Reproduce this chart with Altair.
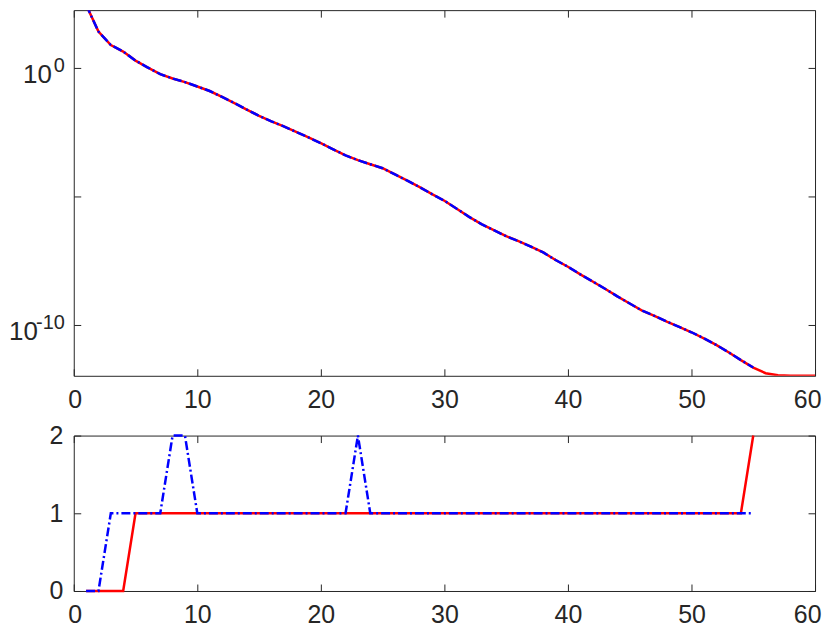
import altair as alt
import pandas as pd

# ---- data ----
x_top_red = list(range(1, 61))
red_top = [3.0e2, 2.7e1, 8.1e0, 4.5e0, 2.0e0, 1.07e0, 5.9e-1, 4.0e-1, 2.9e-1, 1.95e-1,
           1.3e-1, 7.6e-2, 4.4e-2, 2.45e-2, 1.4e-2, 8.5e-3, 5.4e-3, 3.3e-3, 2.0e-3, 1.2e-3,
           6.9e-4, 4.0e-4, 2.6e-4, 1.8e-4, 1.26e-4, 7.2e-5, 4.1e-5, 2.3e-5, 1.23e-5, 6.8e-6,
           3.3e-6, 1.6e-6, 8.3e-7, 4.8e-7, 2.8e-7, 1.8e-7, 1.1e-7, 6.5e-8, 3.3e-8, 1.8e-8,
           9.1e-9, 4.8e-9, 2.5e-9, 1.26e-9, 6.6e-10, 3.5e-10, 2.2e-10, 1.3e-10, 8.1e-11, 5.0e-11,
           2.9e-11, 1.6e-11, 8.3e-12, 4.1e-12, 2.1e-12, 1.26e-12, 1.05e-12, 1.01e-12, 1.0e-12, 1.0e-12]
x_top_blue = list(range(1, 56))
blue_top = [3.0e2, 2.7e1, 8.1e0, 4.5e0, 2.0e0, 1.07e0, 5.9e-1, 4.0e-1, 2.9e-1, 1.95e-1,
            1.3e-1, 7.6e-2, 4.4e-2, 2.45e-2, 1.4e-2, 8.5e-3, 5.4e-3, 3.3e-3, 2.0e-3, 1.2e-3,
            6.9e-4, 4.0e-4, 2.6e-4, 1.8e-4, 1.26e-4, 7.2e-5, 4.1e-5, 2.3e-5, 1.23e-5, 6.8e-6,
            3.3e-6, 1.6e-6, 8.3e-7, 4.8e-7, 2.8e-7, 1.8e-7, 1.1e-7, 6.5e-8, 3.3e-8, 1.8e-8,
            9.1e-9, 4.8e-9, 2.5e-9, 1.26e-9, 6.6e-10, 3.5e-10, 2.2e-10, 1.3e-10, 8.1e-11, 5.0e-11,
            2.9e-11, 1.6e-11, 8.3e-12, 4.1e-12, 2.1e-12]

x_bot = list(range(1, 56))
red_bot = [0, 0, 0, 0, 1, 1, 1, 1, 1, 1,
           1, 1, 1, 1, 1, 1, 1, 1, 1, 1,
           1, 1, 1, 1, 1, 1, 1, 1, 1, 1,
           1, 1, 1, 1, 1, 1, 1, 1, 1, 1,
           1, 1, 1, 1, 1, 1, 1, 1, 1, 1,
           1, 1, 1, 1, 2]
blue_bot = [0, 0, 1, 1, 1, 1, 1, 2, 2, 1,
            1, 1, 1, 1, 1, 1, 1, 1, 1, 1,
            1, 1, 2, 1, 1, 1, 1, 1, 1, 1,
            1, 1, 1, 1, 1, 1, 1, 1, 1, 1,
            1, 1, 1, 1, 1, 1, 1, 1, 1, 1,
            1, 1, 1, 1, 1]

x_ticks = [0, 10, 20, 30, 40, 50, 60]
y_top_ticks = [1e-10, 1e-5, 1]
y_bot_ticks = [0, 1, 2]
# labelled log ticks: base and exponent text
y_top_label_vals = [1, 1e-10]
y_top_label_base = ["10", "10"]
y_top_label_exp = ["0", "-10"]

RED = "#ff0000"
BLUE = "#0000ff"
INK = "#262626"
FONT = "Liberation Sans"
FS = 25
TS = 7

df_tr = pd.DataFrame({"x": x_top_red, "v": red_top})
df_tb = pd.DataFrame({"x": x_top_blue, "v": blue_top})
df_br = pd.DataFrame({"x": x_bot, "v": red_bot})
df_bb = pd.DataFrame({"x": x_bot, "v": blue_bot})
df_lab = pd.DataFrame({"v": y_top_label_vals, "base": y_top_label_base, "exp": y_top_label_exp})

xscale = alt.Scale(domain=[0, 60], nice=False, zero=False)
yscale_top = alt.Scale(type="log", domain=[1e-12, 10 ** 2.27], nice=False)
yscale_bot = alt.Scale(domain=[0, 2], nice=False)


def ax_label(orient, values, pad=12, fmt=None, flush=False):
    kw = dict(orient=orient, values=values, offset=-TS, tickSize=TS, domain=False, grid=False,
              labelPadding=pad, labelFont=FONT, labelFontSize=FS, labelColor=INK,
              labelOverlap=False, tickColor=INK, tickWidth=1, title=None)
    if flush:
        kw["labelFlush"] = True
        kw["labelFlushOffset"] = 6
    else:
        kw["labelFlush"] = False
    if fmt is not None:
        kw["format"] = fmt
    return alt.Axis(**kw)


def ax_ticks(orient, values):
    return alt.Axis(orient=orient, values=values, offset=-TS, tickSize=TS, domain=False,
                    grid=False, labels=False, tickColor=INK, tickWidth=1, title=None)


top_red = alt.Chart(df_tr).mark_line(color=RED, strokeWidth=2.5, clip=True).encode(
    x=alt.X("x:Q", scale=xscale, axis=ax_label("bottom", x_ticks, pad=12, flush=True)),
    y=alt.Y("v:Q", scale=yscale_top, axis=ax_ticks("left", y_top_ticks)),
)
top_blue = alt.Chart(df_tb).mark_line(color=BLUE, strokeWidth=2.5, strokeDash=[9, 3, 2, 3], clip=True).encode(
    x=alt.X("x:Q", scale=xscale, axis=ax_ticks("top", x_ticks)),
    y=alt.Y("v:Q", scale=yscale_top, axis=ax_ticks("right", y_top_ticks)),
)
ytext = alt.Y("v:Q", scale=yscale_top, axis=None)
lab_base_0 = alt.Chart(df_lab).transform_filter("datum.v == 1").mark_text(
    align="right", baseline="alphabetic", dy=15, font=FONT, fontSize=26, color=INK
).encode(x=alt.value(-22), y=ytext, text="base:N")
lab_base_10 = alt.Chart(df_lab).transform_filter("datum.v < 1").mark_text(
    align="right", baseline="alphabetic", dy=16, font=FONT, fontSize=26, color=INK
).encode(x=alt.value(-36), y=ytext, text="base:N")
lab_exp = alt.Chart(df_lab).mark_text(
    align="right", baseline="alphabetic", dy=4, font=FONT, fontSize=20, color=INK
).encode(x=alt.value(-9), y=ytext, text="exp:N")

top = alt.layer(top_red, top_blue, lab_base_0, lab_base_10, lab_exp).resolve_axis(
    x="independent", y="independent").properties(width=744, height=367)

bot_red = alt.Chart(df_br).mark_line(color=RED, strokeWidth=2.5).encode(
    x=alt.X("x:Q", scale=xscale, axis=ax_label("bottom", x_ticks, pad=12, flush=True)),
    y=alt.Y("v:Q", scale=yscale_bot, axis=ax_label("left", y_bot_ticks, pad=11, fmt=".0f")),
)
bot_blue = alt.Chart(df_bb).mark_line(color=BLUE, strokeWidth=2.5, strokeDash=[9, 3, 2, 3]).encode(
    x=alt.X("x:Q", scale=xscale, axis=ax_ticks("top", x_ticks)),
    y=alt.Y("v:Q", scale=yscale_bot, axis=ax_ticks("right", y_bot_ticks)),
)
bot = alt.layer(bot_red, bot_blue).resolve_axis(x="independent", y="independent").properties(
    width=744, height=156)

chart = alt.vconcat(top, bot, spacing=60, bounds="flush").properties(
    padding={"left": 0, "top": 0, "right": 0, "bottom": 0},
    background="white",
).configure_view(stroke=INK, strokeWidth=1)

chart.save("out.html", embed_options={"renderer": "svg", "actions": False})
